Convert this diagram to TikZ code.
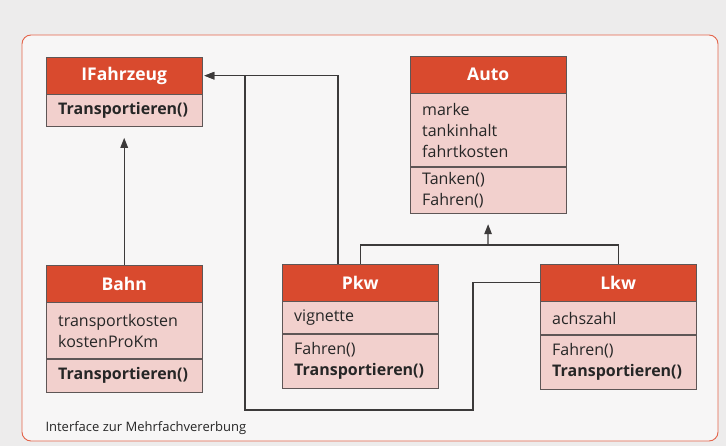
\documentclass[tikz,border=0pt]{standalone}
\usepackage{fontspec}
\setmainfont{Open Sans}
\usetikzlibrary{positioning,arrows.meta,calc}
\definecolor{pagebg}{HTML}{EDECEC}
\definecolor{framefill}{HTML}{F7F6F6}
\definecolor{framered}{HTML}{E4644A}
\definecolor{umlhead}{HTML}{D94A2E}
\definecolor{umlbody}{HTML}{F2D0CD}
\definecolor{umlline}{HTML}{5E5656}
\definecolor{conn}{HTML}{3C3A3A}
\tikzset{
  head/.style={draw=umlline,fill=umlhead,text=white,font=\bfseries\fontsize{17.5}{20}\selectfont,
    minimum width=156pt,minimum height=37pt,inner sep=0pt,anchor=north west},
  part/.style={draw=umlline,fill=umlbody,font=\fontsize{16}{21}\selectfont,text=black!85,
    text width=132pt,inner xsep=12pt,inner ysep=0pt,align=left,below=0pt of #1},
  inh/.style={draw=conn,line width=1.3pt,-{Triangle[length=10pt,width=7.5pt]}},
  link/.style={draw=conn,line width=1.3pt}
}
\begin{document}
\begin{tikzpicture}[x=1pt,y=-1pt]
\fill[pagebg] (0,0) rectangle (726,446);
\draw[framered,fill=framefill,line width=0.9pt,rounded corners=9pt] (22,35) rectangle (718,441);
\node[anchor=west,font=\fontsize{13}{15}\selectfont,text=black!85] (caption) at (42,428) {Interface zur Mehrfachvererbung};
\node[head] (ifz) at (46,57) {IFahrzeug};
\node[part=ifz,minimum height=32pt] (ifz-m) {\textbf{Transportieren()}};
\node[head] (auto) at (410,56) {Auto};
\node[part=auto,minimum height=73pt] (auto-a) {marke\\tankinhalt\\fahrtkosten};
\node[part=auto-a,minimum height=46pt] (auto-m) {Tanken()\\Fahren()};
\node[head] (bahn) at (46,265) {Bahn};
\node[part=bahn,minimum height=56pt] (bahn-a) {transportkosten\\kostenProKm};
\node[part=bahn-a,minimum height=33pt] (bahn-m) {\textbf{Transportieren()}};
\node[head] (pkw) at (282,264) {Pkw};
\node[part=pkw,minimum height=32pt] (pkw-a) {vignette};
\node[part=pkw-a,minimum height=54pt] (pkw-m) {Fahren()\\\textbf{Transportieren()}};
\node[head] (lkw) at (540,264) {Lkw};
\node[part=lkw,minimum height=33pt] (lkw-a) {achszahl};
\node[part=lkw-a,minimum height=54pt] (lkw-m) {Fahren()\\\textbf{Transportieren()}};
\coordinate (join) at (488,245);
\coordinate (low-r) at (473,410);
\coordinate (low-l) at (245,410);
\draw[inh,shorten >=11pt] (bahn.north) -- (ifz-m.south);
\draw[inh,shorten >=2pt] ($(pkw.north west)+(56,0)$) |- (ifz.east);
\draw[inh,shorten >=2pt] (lkw.west) -| (low-r) -- (low-l) |- (ifz.east);
\draw[link] (pkw.north) |- (lkw.north |- join) -- (lkw.north);
\draw[inh,shorten >=11pt] (join) -- (auto-m.south);
\end{tikzpicture}
\end{document}
